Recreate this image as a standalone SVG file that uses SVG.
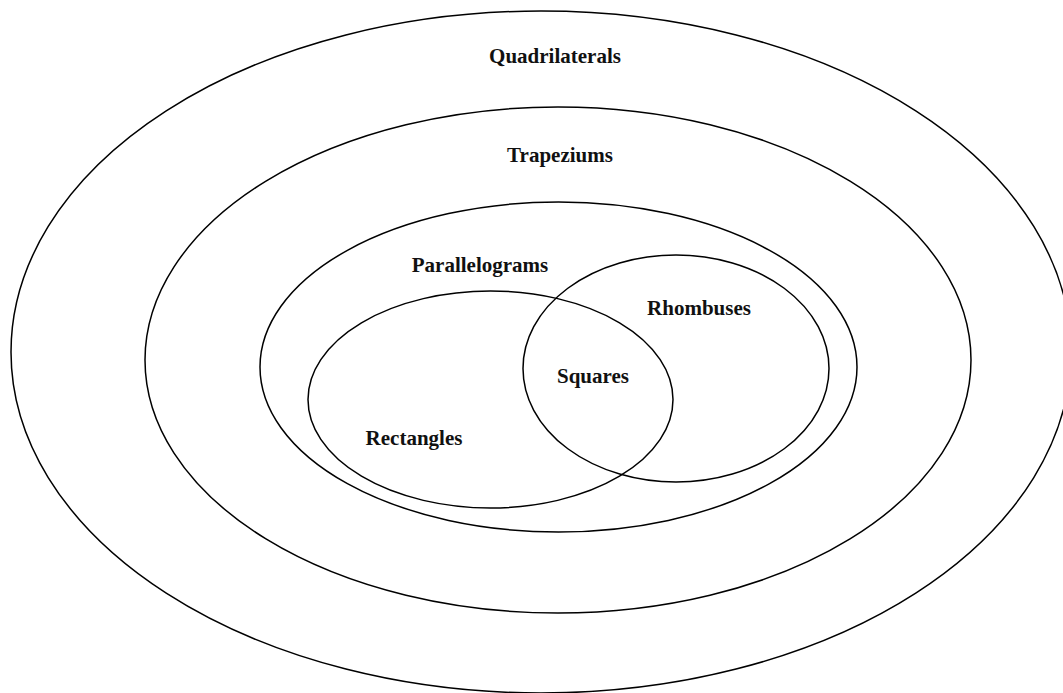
<svg xmlns="http://www.w3.org/2000/svg" width="1063" height="693" viewBox="0 0 1063 693">
<style>
.set{fill:none;stroke:#000;stroke-width:1.5}
.lbl{font-family:"Liberation Serif","Times New Roman",serif;font-weight:bold;font-size:21px;fill:#111;text-anchor:middle}
</style>
<rect width="1063" height="693" fill="#fff"/>
<g id="quadrilaterals"><ellipse class="set" cx="541" cy="352" rx="530" ry="341"/><text class="lbl" x="555" y="63">Quadrilaterals</text></g>
<g id="trapeziums"><ellipse class="set" cx="558" cy="360" rx="413" ry="253"/><text class="lbl" x="560" y="162">Trapeziums</text></g>
<g id="parallelograms"><ellipse class="set" cx="558.5" cy="367" rx="298.5" ry="165"/><text class="lbl" x="480" y="272">Parallelograms</text></g>
<g id="rectangles"><ellipse class="set" cx="490.5" cy="399.5" rx="182.5" ry="108.5"/><text class="lbl" x="414" y="445">Rectangles</text></g>
<g id="rhombuses"><ellipse class="set" cx="676" cy="368.5" rx="153" ry="113.5"/><text class="lbl" x="699" y="315">Rhombuses</text></g>
<g id="squares"><text class="lbl" x="593" y="383">Squares</text></g>
<g id="connectors"></g>
</svg>
